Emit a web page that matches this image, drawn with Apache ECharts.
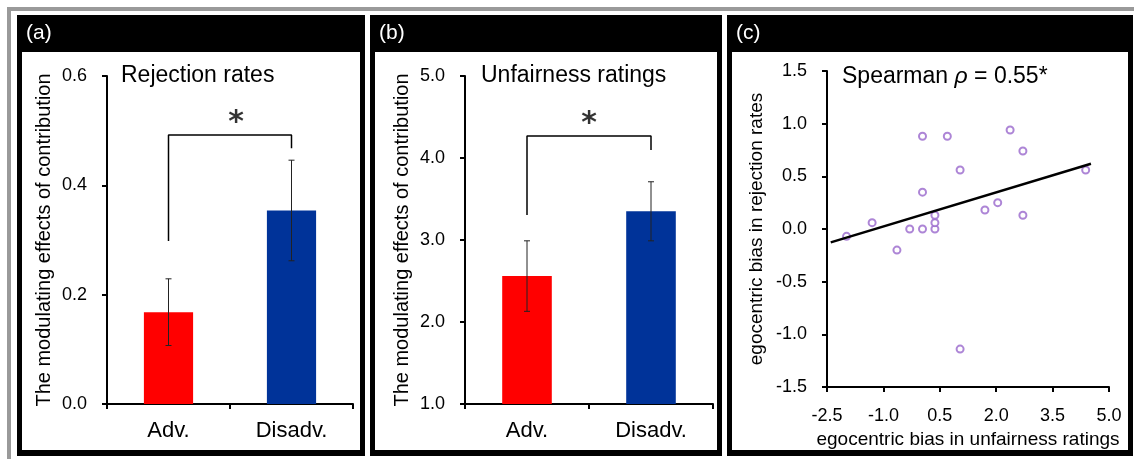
<!DOCTYPE html>
<html lang="en">
<head>
<meta charset="UTF-8">
<title>Egocentric bias</title>
<script src="https://cdn.jsdelivr.net/npm/echarts@6/dist/echarts.min.js"></script>
<style>
  html, body { margin: 0; padding: 0; background: #fff; }
  #main { width: 1134px; height: 459px; }
</style>
</head>
<body>
<div id="main"></div>
<script>
// (a) and (b): bar means with error bars
var categories = ['Adv.', 'Disadv.'];
var rejMean = [0.168, 0.354];
var rejErr = [0.061, 0.092];
var unfMean = [2.56, 3.35];
var unfErr = [0.43, 0.36];
// significance bracket: left foot, top, right foot
var rejBracket = [0.298, 0.492, 0.468];
var unfBracket = [3.305, 4.268, 4.098];

// (c): scatter + fitted line
var egoUnf = [-1.98, -1.30, -0.64, -0.30, 0.04, 0.04, 0.04, 0.37, 0.37, 0.37, 0.70, 1.04, 1.04, 1.70, 2.04, 2.37, 2.71, 2.71, 4.38];
var egoRej = [-0.07, 0.06, -0.20, 0.00, 0.00, 0.35, 0.88, 0.00, 0.06, 0.13, 0.88, 0.56, -1.14, 0.18, 0.25, 0.94, 0.74, 0.13, 0.56];
var fitX = [-2.40, 4.52];
var fitY = [-0.127, 0.62];

var barColors = ['#ff0000', '#003399'];
var font = 'Liberation Sans, Arial, sans-serif';

var chart = echarts.init(document.getElementById('main'));

function errorBar(params, api) {
  var lo = api.coord([api.value(0), api.value(1)]);
  var hi = api.coord([api.value(0), api.value(2)]);
  var w = 3;
  var st = { stroke: '#222', lineWidth: 1 };
  return {
    type: 'group',
    children: [
      { type: 'line', shape: { x1: hi[0], y1: hi[1], x2: lo[0], y2: lo[1] }, style: st },
      { type: 'line', shape: { x1: hi[0] - w, y1: hi[1], x2: hi[0] + w, y2: hi[1] }, style: st },
      { type: 'line', shape: { x1: lo[0] - w, y1: lo[1], x2: lo[0] + w, y2: lo[1] }, style: st }
    ]
  };
}

function bracketData(b) {
  return [[0, b[0]], [0, b[1]], [1, b[1]], [1, b[2]]];
}

var axisLine = { show: true, onZero: false, lineStyle: { color: '#000', width: 2 } };
var axisTick = { show: true, length: 5, lineStyle: { color: '#000', width: 2 } };

function catAxis(grid) {
  return {
    type: 'category', gridIndex: grid, data: categories,
    axisLine: axisLine, axisTick: axisTick,
    axisLabel: { fontSize: 22, margin: 16, color: '#000', fontFamily: font }
  };
}
function hiddenAxis(grid) {
  return { type: 'value', gridIndex: grid, min: -0.5, max: 1.5, show: false };
}
function valAxis(grid, min, max, step, name, gap, size) {
  return {
    type: 'value', gridIndex: grid, min: min, max: max, interval: step,
    name: name, nameLocation: 'middle', nameGap: gap,
    nameTextStyle: { fontSize: size, color: '#000', fontFamily: font },
    axisLine: axisLine, axisTick: axisTick, splitLine: { show: false },
    axisLabel: { fontSize: 18, margin: 20, color: '#000', fontFamily: font,
      formatter: function (v) { return v.toFixed(1); } }
  };
}

function panel(x, w, label) {
  return [
    { type: 'rect', z: -10, shape: { x: x, y: 15, width: w, height: 441 }, style: { fill: '#000' } },
    { type: 'rect', z: -9, shape: { x: x + 5, y: 52, width: w - 10, height: 398 }, style: { fill: '#fff' } },
    { type: 'text', z: 50, x: x + 9, y: 33, style: { text: label, fill: '#fff', fontSize: 21, fontFamily: font, verticalAlign: 'middle' } }
  ];
}

var graphics = [
  { type: 'rect', z: -10, shape: { x: 7, y: 7, width: 1127, height: 4 }, style: { fill: '#9a9a9a' } },
  { type: 'rect', z: -10, shape: { x: 7, y: 7, width: 4, height: 452 }, style: { fill: '#9a9a9a' } }
].concat(panel(17, 348, '(a)'), panel(370, 352, '(b)'), panel(727, 406, '(c)'), [
  { type: 'text', z: 50, x: 121, y: 76, style: { text: 'Rejection rates', fill: '#000', fontSize: 23, fontFamily: font, verticalAlign: 'middle' } },
  { type: 'text', z: 50, x: 481, y: 76, style: { text: 'Unfairness ratings', fill: '#000', fontSize: 23, fontFamily: font, verticalAlign: 'middle' } },
  { type: 'text', z: 50, x: 842, y: 77, style: {
      text: '{n|Spearman }{r|ρ}{n| = 0.55*}', verticalAlign: 'middle',
      rich: {
        n: { fontSize: 23, fill: '#000', fontFamily: font },
        r: { fontSize: 23, fill: '#000', fontFamily: font, fontStyle: 'italic' }
      } } }
]);

function starSeries(xi, yi, mid, top) {
  return {
    type: 'scatter', xAxisIndex: xi, yAxisIndex: yi, symbolSize: 1, z: 6,
    itemStyle: { color: 'rgba(0,0,0,0)' },
    label: { show: true, formatter: '*', position: 'top', distance: -4, fontSize: 30, fontWeight: 'bold',
      color: '#000', fontFamily: 'DejaVu Sans, sans-serif' },
    data: [[mid, top]]
  };
}

var option = {
  backgroundColor: '#fff',
  animation: false,
  textStyle: { fontFamily: font },
  graphic: graphics,
  grid: [
    { left: 107, top: 76, width: 246, height: 328 },
    { left: 465, top: 76, width: 248, height: 328 },
    { left: 827, top: 71, width: 282, height: 316 }
  ],
  xAxis: [
    catAxis(0), hiddenAxis(0), catAxis(1), hiddenAxis(1),
    {
      type: 'value', gridIndex: 2, min: -2.5, max: 5, interval: 1.5,
      name: 'egocentric bias in unfairness ratings', nameLocation: 'middle', nameGap: 41,
      nameTextStyle: { fontSize: 19, color: '#000', fontFamily: font },
      axisLine: axisLine, axisTick: axisTick, splitLine: { show: false },
      axisLabel: { fontSize: 18, margin: 20, color: '#000', fontFamily: font,
        formatter: function (v) { return v.toFixed(1); } }
    }
  ],
  yAxis: [
    valAxis(0, 0, 0.6, 0.2, 'The modulating effects of contribution', 53, 20),
    valAxis(1, 1, 5, 1, 'The modulating effects of contribution', 53, 20),
    valAxis(2, -1.5, 1.5, 0.5, 'egocentric bias in rejection rates', 61, 19)
  ],
  series: [
    {
      type: 'bar', xAxisIndex: 0, yAxisIndex: 0, barWidth: '40%',
      data: rejMean.map(function (v, i) { return { value: v, itemStyle: { color: barColors[i] } }; })
    },
    {
      type: 'custom', xAxisIndex: 0, yAxisIndex: 0, renderItem: errorBar, z: 5,
      encode: { x: 0, y: [1, 2] },
      data: rejMean.map(function (m, i) { return [i, m - rejErr[i], m + rejErr[i]]; })
    },
    {
      type: 'line', xAxisIndex: 1, yAxisIndex: 0, symbol: 'none',
      lineStyle: { color: '#000', width: 1.5 }, data: bracketData(rejBracket)
    },
    starSeries(1, 0, 0.55, rejBracket[1]),
    {
      type: 'bar', xAxisIndex: 2, yAxisIndex: 1, barWidth: '40%',
      data: unfMean.map(function (v, i) { return { value: v, itemStyle: { color: barColors[i] } }; })
    },
    {
      type: 'custom', xAxisIndex: 2, yAxisIndex: 1, renderItem: errorBar, z: 5,
      encode: { x: 0, y: [1, 2] },
      data: unfMean.map(function (m, i) { return [i, m - unfErr[i], m + unfErr[i]]; })
    },
    {
      type: 'line', xAxisIndex: 3, yAxisIndex: 1, symbol: 'none',
      lineStyle: { color: '#000', width: 1.5 }, data: bracketData(unfBracket)
    },
    starSeries(3, 1, 0.5, unfBracket[1]),
    {
      type: 'line', xAxisIndex: 4, yAxisIndex: 2, symbol: 'none',
      lineStyle: { color: '#000', width: 2.5 },
      data: fitX.map(function (x, i) { return [x, fitY[i]]; })
    },
    {
      type: 'scatter', xAxisIndex: 4, yAxisIndex: 2, symbol: 'emptyCircle', symbolSize: 7,
      itemStyle: { color: '#9966cc', borderWidth: 1 },
      data: egoUnf.map(function (x, i) { return [x, egoRej[i]]; })
    }
  ]
};

chart.setOption(option);
</script>
</body>
</html>
